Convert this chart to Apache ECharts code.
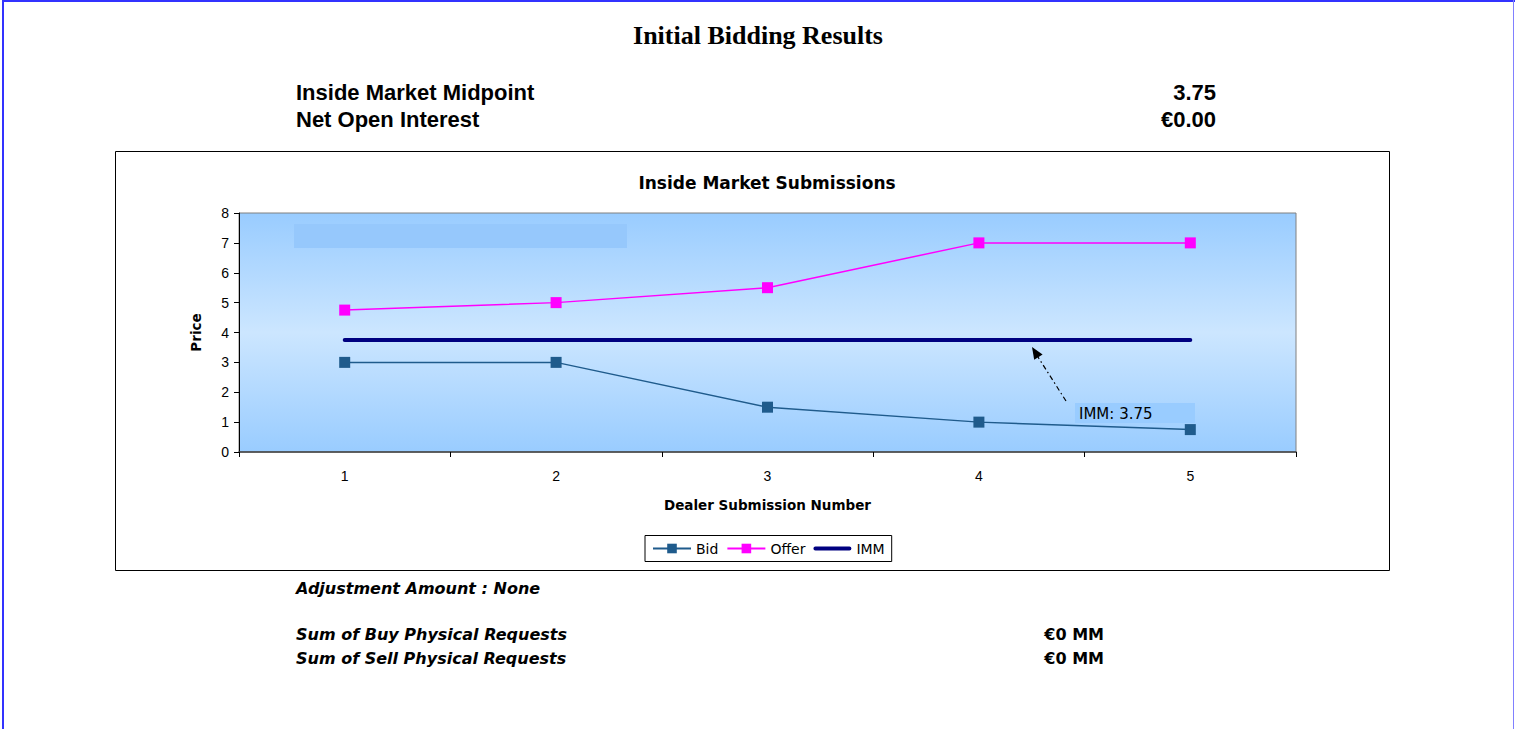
<!DOCTYPE html>
<html>
<head>
<meta charset="utf-8">
<script src="https://cdn.jsdelivr.net/npm/echarts@6/dist/echarts.min.js"></script>
<style>
html,body{margin:0;padding:0;background:#fff;}
#chart{position:absolute;left:0;top:0;width:1515px;height:729px;}
</style>
</head>
<body>
<div id="chart"></div>
<script>
// ---- data ----
const categories = ['1', '2', '3', '4', '5'];
const bidValues = [3, 3, 1.5, 1, 0.75];
const offerValues = [4.75, 5, 5.5, 7, 7];
const immValues = [3.75, 3.75, 3.75, 3.75, 3.75];
const seriesNames = ['Bid', 'Offer', 'IMM'];
const yMin = 0, yMax = 8, yInterval = 1;

const pageTitle = 'Initial Bidding Results';
const headerLabels = ['Inside Market Midpoint', 'Net Open Interest'];
const headerValues = ['3.75', '€0.00'];
const chartTitle = 'Inside Market Submissions';
const xAxisName = 'Dealer Submission Number';
const yAxisName = 'Price';
const annotationText = 'IMM: 3.75';
const adjustmentText = 'Adjustment Amount : None';
const footerLabels = ['Sum of Buy Physical Requests', 'Sum of Sell Physical Requests'];
const footerValues = ['€0 MM', '€0 MM'];

const SANS = 'DejaVu Sans';
const ARIAL = 'Liberation Sans';
const chart = echarts.init(document.getElementById('chart'), null, {renderer: 'svg'});

function txt(x, y, text, opts) {
  return {
    type: 'text', x: x, y: y, silent: true,
    style: Object.assign({text: text, fill: '#000', fontFamily: SANS, fontSize: 14,
      fontWeight: 'normal', align: 'left', verticalAlign: 'middle'}, opts || {})
  };
}

const graphics = [
  // page border
  {type: 'rect', shape: {x: 2, y: 0, width: 2, height: 729}, style: {fill: '#3333ff'}, silent: true},
  {type: 'rect', shape: {x: 2, y: 0, width: 1513, height: 2}, style: {fill: '#3333ff'}, silent: true},
  {type: 'rect', shape: {x: 1513, y: 0, width: 1, height: 729}, style: {fill: '#8080ff'}, silent: true},
  // chart box
  {type: 'rect', shape: {x: 115.5, y: 151.5, width: 1274, height: 419}, style: {fill: 'none', stroke: '#000', lineWidth: 1}, silent: true},
  // page title
  txt(758, 35, pageTitle, {fontFamily: 'Liberation Serif', fontWeight: 'bold', fontSize: 26, align: 'center'}),
  txt(296, 92, headerLabels[0], {fontFamily: ARIAL, fontWeight: 'bold', fontSize: 22}),
  txt(296, 119, headerLabels[1], {fontFamily: ARIAL, fontWeight: 'bold', fontSize: 22}),
  txt(1216, 92, headerValues[0], {fontFamily: ARIAL, fontWeight: 'bold', fontSize: 22, align: 'right'}),
  txt(1216, 119, headerValues[1], {fontFamily: ARIAL, fontWeight: 'bold', fontSize: 22, align: 'right'}),
  // chart title
  txt(767, 183, chartTitle, {fontWeight: 'bold', fontSize: 17, align: 'center'}),
  // empty text box in plot
  {type: 'rect', shape: {x: 294, y: 224, width: 333, height: 24}, style: {fill: '#96c8fc'}, silent: true, z: 5},
  // annotation box
  {type: 'rect', shape: {x: 1075, y: 403, width: 120, height: 20}, style: {fill: '#99ccff'}, silent: true, z: 5},
  Object.assign(txt(1079, 414, annotationText, {fontSize: 15}), {z: 6}),
  // arrow
  {type: 'line', shape: {x1: 1066, y1: 401, x2: 1038, y2: 357}, style: {stroke: '#000', lineWidth: 1.2, lineDash: [5, 3, 1.5, 3]}, silent: true, z: 6},
  {type: 'polygon', shape: {points: [[1032, 347], [1042.6, 354.5], [1034.2, 359.8]]}, style: {fill: '#000'}, silent: true, z: 6},
  // footer
  txt(296, 588, adjustmentText, {fontWeight: 'bold', fontStyle: 'italic', fontSize: 16}),
  txt(296, 634, footerLabels[0], {fontWeight: 'bold', fontStyle: 'italic', fontSize: 16}),
  txt(296, 658, footerLabels[1], {fontWeight: 'bold', fontStyle: 'italic', fontSize: 16}),
  txt(1104, 634, footerValues[0], {fontWeight: 'bold', fontSize: 16, align: 'right'}),
  txt(1104, 658, footerValues[1], {fontWeight: 'bold', fontSize: 16, align: 'right'})
];

const immIcon = 'path://M0,0L38,0L0,0Z M2,4 L36,4 A2,2 0 0 1 36,8 L2,8 A2,2 0 0 1 2,4 Z M0,12L38,12L0,12Z';

const option = {
  animation: false,
  backgroundColor: '#fff',
  textStyle: {fontFamily: SANS},
  grid: {
    left: 239, top: 213, width: 1057, height: 239,
    show: true, borderColor: '#808080', borderWidth: 1,
    backgroundColor: new echarts.graphic.LinearGradient(0, 0, 0, 1, [
      {offset: 0, color: '#99ccff'},
      {offset: 0.5, color: '#cce6ff'},
      {offset: 1, color: '#99ccff'}
    ])
  },
  xAxis: {
    type: 'category', data: categories, boundaryGap: true,
    name: xAxisName, nameLocation: 'middle', nameGap: 46,
    nameTextStyle: {fontWeight: 'bold', fontSize: 13.5, color: '#000', fontFamily: SANS},
    axisLine: {show: true, lineStyle: {color: '#404040', width: 1.5}},
    axisTick: {show: true, length: 5, lineStyle: {color: '#000'}},
    axisLabel: {fontSize: 14, color: '#000', margin: 17, fontFamily: ARIAL},
    splitLine: {show: false}
  },
  yAxis: {
    type: 'value', min: yMin, max: yMax, interval: yInterval,
    name: yAxisName, nameLocation: 'middle', nameGap: 36, nameRotate: 90,
    nameTextStyle: {fontWeight: 'bold', fontSize: 13.5, color: '#000', fontFamily: SANS},
    axisLine: {show: true, lineStyle: {color: '#000', width: 1}},
    axisTick: {show: true, length: 5, lineStyle: {color: '#000'}},
    axisLabel: {fontSize: 14, color: '#000', margin: 10, fontFamily: ARIAL},
    splitLine: {show: false}
  },
  legend: {
    left: 645, top: 535.5,
    data: [{name: seriesNames[0]}, {name: seriesNames[1]}, {name: seriesNames[2], icon: immIcon}],
    itemWidth: 38, itemHeight: 12, itemGap: 8,
    padding: [6, 7], borderColor: '#000', borderWidth: 1, borderRadius: 0,
    backgroundColor: '#fff',
    textStyle: {fontSize: 14, color: '#000', fontFamily: SANS}
  },
  series: [
    {
      name: seriesNames[0], type: 'line', data: bidValues,
      symbol: 'rect', symbolSize: 11, showSymbol: true,
      itemStyle: {color: '#1f5b8c'}, lineStyle: {color: '#1f5b8c', width: 1.5}, z: 3
    },
    {
      name: seriesNames[1], type: 'line', data: offerValues,
      symbol: 'rect', symbolSize: 11, showSymbol: true,
      itemStyle: {color: '#ff00ff'}, lineStyle: {color: '#ff00ff', width: 1.5}, z: 3
    },
    {
      name: seriesNames[2], type: 'line', data: immValues,
      symbol: 'none', showSymbol: false,
      itemStyle: {color: '#000080'}, lineStyle: {color: '#000080', width: 4, cap: 'round'}, z: 2
    }
  ],
  graphic: graphics
};
chart.setOption(option);
</script>
</body>
</html>
